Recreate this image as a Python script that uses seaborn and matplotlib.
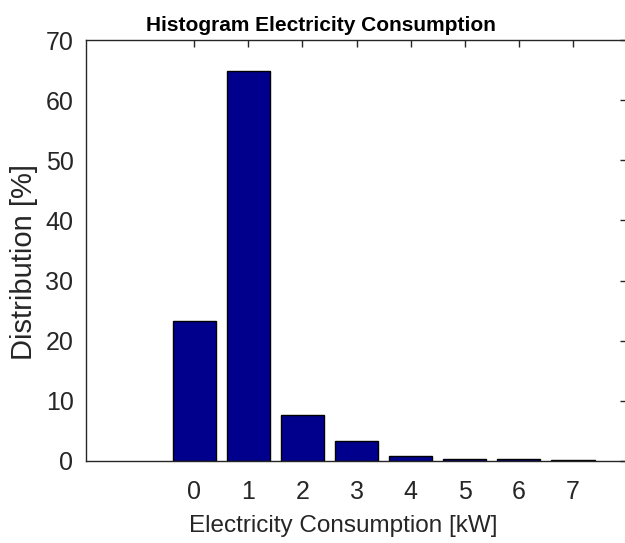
import matplotlib
matplotlib.use('Agg')
import matplotlib.pyplot as plt
import seaborn as sns
import pandas as pd

consumption_kw = [0, 1, 2, 3, 4, 5, 6, 7]
distribution_pct = [23.3, 64.8, 7.7, 3.4, 0.9, 0.4, 0.25, 0.15]

sns.set_style('white')
plt.rcParams['font.family'] = ['Liberation Sans', 'DejaVu Sans']

df = pd.DataFrame({'kw': consumption_kw, 'pct': distribution_pct})

fig = plt.figure(figsize=(6.25, 5.43), dpi=100)
ax = fig.add_axes([86/625, 82/543, 541/625, 421/543])

sns.barplot(data=df, x='kw', y='pct', native_scale=True, color='#00008C',
            saturation=1, edgecolor='black', linewidth=1, width=0.8, ax=ax)

ax.set_xlim(-2, 8)
ax.set_ylim(0, 70)
ax.set_xticks(consumption_kw)
ax.set_yticks(range(0, 71, 10))
ax.tick_params(direction='in', length=5, width=1, colors='#262626',
               labelsize=18, top=True, right=True)
ax.tick_params(axis='x', pad=14)
ax.tick_params(axis='y', pad=9)
for s in ax.spines.values():
    s.set_color('#262626')
    s.set_linewidth(1)
    s.set_visible(True)

ax.set_xlabel('Electricity Consumption [kW]', fontsize=17.5, color='#262626')
ax.xaxis.set_label_coords(0.475, -0.128)
ax.set_ylabel('Distribution [%]', fontsize=21, color='#262626')
ax.yaxis.set_label_coords(-0.088, 0.473)

fig.text(321/625, (543-31)/543, 'Histogram Electricity Consumption', fontsize=15,
         fontweight='bold', color='black', ha='center', va='baseline')

fig.savefig('out.png', dpi=100)
